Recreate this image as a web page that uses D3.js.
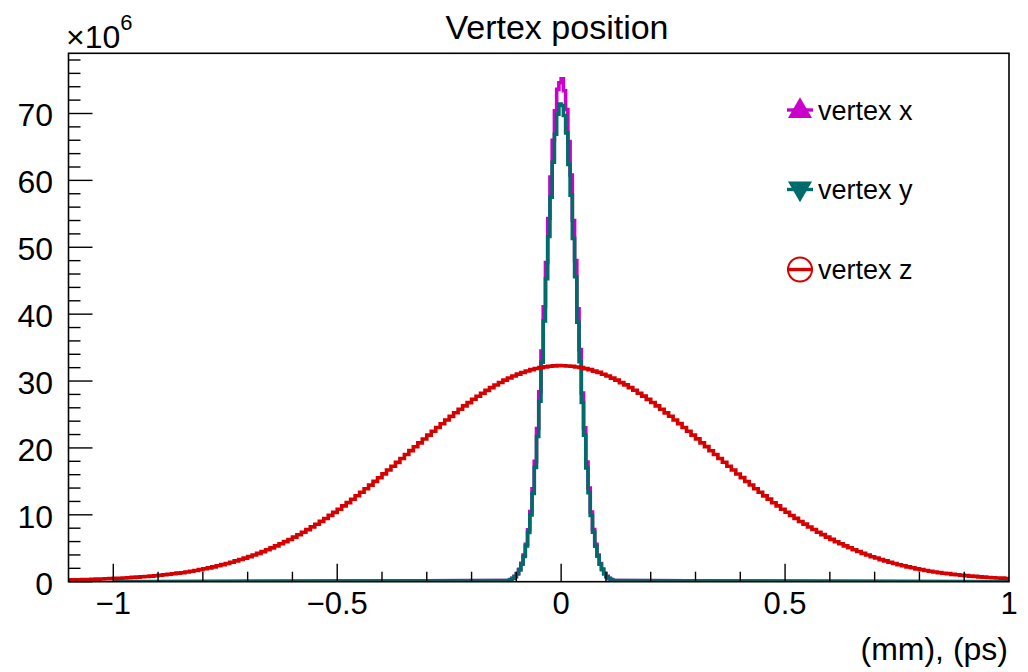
<!DOCTYPE html>
<html>
<head>
<meta charset="utf-8">
<script src="https://d3js.org/d3.v7.min.js"></script>
<title>Vertex position</title>
<style>
body { margin: 0; background: #fff; }
svg { display: block; font-family: "Liberation Sans", Arial, Helvetica, sans-serif; }
</style>
</head>
<body>
<svg></svg>
<script>
// bin contents in units of 1e6 entries

// vertex x / vertex y : bins of 0.005 starting at -0.12 (zero elsewhere in [-1, 1])
const narrowStart = -0.12;
const narrowWidth = 0.005;
const vertexX = [0.19, 0.32, 0.51, 0.80, 1.23, 1.86, 2.75, 3.97, 5.61, 7.76, 10.5, 13.9,
  18.0, 22.9, 28.4, 34.5, 41.1, 47.7, 54.3, 60.5, 66.0, 70.4, 73.6, 74.6,
  75.2, 73.4, 70.6, 65.8, 60.8, 54.0, 48.0, 40.8, 34.7, 28.2, 23.0, 17.9,
  14.0, 10.4, 7.8, 5.6, 4.0, 2.7, 1.9, 1.2, 0.8, 0.5, 0.32, 0.18];
const vertexY = [0.18, 0.30, 0.48, 0.76, 1.17, 1.77, 2.61, 3.77, 5.33, 7.37, 9.98, 13.2,
  17.1, 21.7, 27.0, 32.8, 39.0, 45.3, 51.6, 57.5, 62.7, 66.9, 69.9, 71.4,
  71.2, 69.7, 67.1, 62.4, 57.8, 51.3, 45.6, 38.8, 32.9, 26.8, 21.9, 17.0,
  13.3, 9.9, 7.4, 5.3, 3.8, 2.6, 1.8, 1.2, 0.75, 0.48, 0.30, 0.17];
const narrowRange = [-1, 1];

// vertex z : bins of 0.01 starting at -1.1
const wideStart = -1.1;
const wideWidth = 0.01;
const vertexZ = [
  0.27, 0.29, 0.30, 0.32, 0.34, 0.36, 0.38, 0.40, 0.43, 0.46,
  0.49, 0.52, 0.56, 0.59, 0.64, 0.68, 0.73, 0.78, 0.84, 0.90,
  0.97, 1.04, 1.11, 1.19, 1.28, 1.34, 1.45, 1.56, 1.68, 1.80,
  1.93, 2.07, 2.22, 2.38, 2.55, 2.72, 2.91, 3.11, 3.31, 3.53,
  3.75, 3.99, 4.24, 4.50, 4.78, 5.06, 5.36, 5.67, 5.99, 6.32,
  6.67, 7.03, 7.40, 7.79, 8.19, 8.60, 9.02, 9.46, 9.91, 10.37,
  10.84, 11.33, 11.82, 12.33, 12.84, 13.37, 13.90, 14.44, 15.00, 15.55,
  16.12, 16.69, 17.26, 17.84, 18.42, 19.01, 19.59, 20.18, 20.76, 21.34,
  21.92, 22.49, 23.06, 23.62, 24.18, 24.72, 25.25, 25.78, 26.29, 26.78,
  27.27, 27.73, 28.18, 28.61, 29.02, 29.41, 29.78, 30.13, 30.45, 30.75,
  31.03, 31.28, 31.50, 31.70, 31.87, 32.01, 32.12, 32.21, 32.27, 32.30,
  32.29, 32.26, 32.22, 32.11, 32.02, 31.86, 31.71, 31.49, 31.29, 31.02,
  30.76, 30.44, 30.14, 29.77, 29.42, 29.01, 28.62, 28.17, 27.74, 27.26,
  26.79, 26.28, 25.79, 25.24, 24.73, 24.17, 23.63, 23.05, 22.50, 21.91,
  21.35, 20.75, 20.19, 19.58, 19.02, 18.41, 17.85, 17.25, 16.70, 16.11,
  15.56, 14.99, 14.45, 13.89, 13.38, 12.83, 12.34, 11.81, 11.34, 10.83,
  10.38, 9.90, 9.47, 9.01, 8.61, 8.18, 7.80, 7.39, 7.04, 6.66,
  6.33, 5.98, 5.68, 5.35, 5.07, 4.77, 4.51, 4.23, 4.00, 3.74,
  3.54, 3.30, 3.12, 2.90, 2.73, 2.54, 2.39, 2.21, 2.08, 1.92,
  1.81, 1.67, 1.57, 1.44, 1.35, 1.27, 1.20, 1.10, 1.05, 0.96,
  0.91, 0.83, 0.79, 0.72, 0.69, 0.63, 0.60, 0.55, 0.53, 0.48];

const xDomain = [-1.1, 1.0];
const yDomain = [0, 79];
const xMajor = [-1, -0.5, 0, 0.5, 1];
const xMajorLabels = ["\u22121", "\u22120.5", "0", "0.5", "1"];
const yMajor = [0, 10, 20, 30, 40, 50, 60, 70];
const legendNames = ["vertex x", "vertex y", "vertex z"];

const W = 1028, H = 672;
const frameL = 68.5, frameR = 1009, frameT = 53.3, frameB = 581.7;

const svg = d3.select("svg").attr("width", W).attr("height", H);

const x = d3.scaleLinear().domain(xDomain).range([frameL, frameR]);
const y = d3.scaleLinear().domain(yDomain).range([frameB, frameT]);

svg.append("clipPath").attr("id", "frame")
  .append("rect")
  .attr("x", frameL).attr("y", frameT)
  .attr("width", frameR - frameL).attr("height", frameB - frameT);

// turn bin contents into step outline points
const steps = (start, width, values) => {
  const pts = [];
  values.forEach((v, i) => {
    pts.push([start + i * width, v]);
    pts.push([start + (i + 1) * width, v]);
  });
  return pts;
};

const narrowPts = vals => [[narrowRange[0], 0]]
  .concat(steps(narrowStart, narrowWidth, vals))
  .concat([[narrowRange[1], 0]]);

const line = d3.line().x(d => x(d[0])).y(d => y(d[1]));

const plot = svg.append("g").attr("clip-path", "url(#frame)");

const hists = [
  { pts: narrowPts(vertexX), color: "#cc00cc" },
  { pts: narrowPts(vertexY), color: "#006b6b" },
  { pts: steps(wideStart, wideWidth, vertexZ), color: "#d60000" }
];

hists.forEach(h => {
  plot.append("path")
    .attr("d", line(h.pts))
    .attr("fill", "none")
    .attr("stroke", h.color)
    .attr("stroke-width", 3.6)
    .attr("stroke-linejoin", "miter");
});

// frame
svg.append("rect")
  .attr("x", frameL).attr("y", frameT)
  .attr("width", frameR - frameL).attr("height", frameB - frameT)
  .attr("fill", "none").attr("stroke", "#000").attr("stroke-width", 1.6);

// x ticks
const xMinor = d3.range(-11, 11).map(i => i / 10)
  .filter(v => v > xDomain[0] + 1e-9 && v < xDomain[1] - 1e-9);
svg.append("g").selectAll("line").data(xMinor).join("line")
  .attr("x1", d => x(d)).attr("x2", d => x(d))
  .attr("y1", frameB).attr("y2", d => xMajor.some(m => Math.abs(m - d) < 1e-9) ? frameB - 18 : frameB - 10)
  .attr("stroke", "#000").attr("stroke-width", 1.4);

svg.append("g").selectAll("text").data(xMajor).join("text")
  .attr("x", d => x(d)).attr("y", 614)
  .attr("text-anchor", "middle")
  .attr("font-size", 31)
  .text((d, i) => xMajorLabels[i]);

// y ticks
const yMinor = d3.range(0, 79, 2);
svg.append("g").selectAll("line").data(yMinor).join("line")
  .attr("x1", frameL).attr("x2", d => d % 10 === 0 ? frameL + 24 : frameL + 12)
  .attr("y1", d => y(d)).attr("y2", d => y(d))
  .attr("stroke", "#000").attr("stroke-width", 1.4);

svg.append("g").selectAll("text").data(yMajor).join("text")
  .attr("x", 53).attr("y", d => y(d) + 13)
  .attr("text-anchor", "end")
  .attr("font-size", 32)
  .text(d => d);

// exponent
const expo = svg.append("text").attr("x", 66).attr("y", 48).attr("font-size", 32);
expo.append("tspan").text("\u00d710");
expo.append("tspan").attr("dy", -18).attr("font-size", 22).text("6");

// title and axis title
svg.append("text")
  .attr("x", 557).attr("y", 39)
  .attr("text-anchor", "middle")
  .attr("font-size", 34)
  .text("Vertex position");

svg.append("text")
  .attr("x", 1008).attr("y", 660)
  .attr("text-anchor", "end")
  .attr("font-size", 32)
  .text("(mm), (ps)");

// legend
const leg = svg.append("g");
const rowY = [110, 189.5, 269.5];
const mx = 800;
legendNames.forEach((name, i) => {
  const cy = rowY[i];
  const c = hists[i].color;
  leg.append("line")
    .attr("x1", mx - 13).attr("x2", mx + 13)
    .attr("y1", cy).attr("y2", cy)
    .attr("stroke", c).attr("stroke-width", 3.4);
  if (i === 0) {
    leg.append("path").attr("d", d3.symbol(d3.symbolTriangle, 250)())
      .attr("transform", `translate(${mx},${cy + 1})`).attr("fill", c);
  } else if (i === 1) {
    leg.append("path").attr("d", d3.symbol(d3.symbolTriangle, 250)())
      .attr("transform", `translate(${mx},${cy - 1}) rotate(180)`).attr("fill", c);
  } else {
    leg.append("circle").attr("cx", mx).attr("cy", cy).attr("r", 12)
      .attr("fill", "none").attr("stroke", c).attr("stroke-width", 2);
  }
  leg.append("text")
    .attr("x", 818).attr("y", cy + 9.5)
    .attr("font-size", 27)
    .text(name);
});
</script>
</body>
</html>
